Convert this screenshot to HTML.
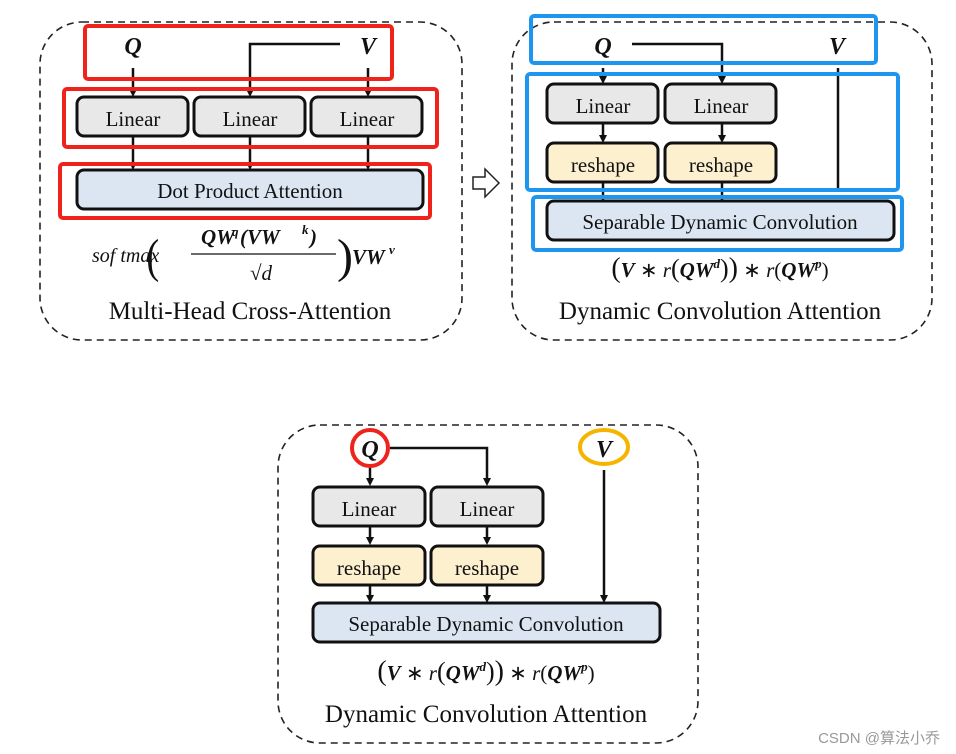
<!DOCTYPE html>
<html><head><meta charset="utf-8"><style>
html,body{margin:0;padding:0;background:#fff;}
svg{display:block;}
text{font-family:"Liberation Serif",serif;fill:#111;}
.bx{stroke:#111;stroke-width:3;}
.lab{font-size:21px;text-anchor:middle;}
.ttl{font-size:25px;text-anchor:middle;}
.bi{font-weight:bold;font-style:italic;}
</style></head><body>
<svg width="956" height="754" viewBox="0 0 956 754" xmlns="http://www.w3.org/2000/svg">
<defs>
<marker id="a" markerWidth="8" markerHeight="8" refX="4" refY="4" orient="auto" markerUnits="userSpaceOnUse"><path d="M0,0 L8,4 L0,8 z" fill="#111"/></marker>
</defs>
<g fill="none" stroke="#222" stroke-width="1.6" stroke-dasharray="7,5">
<rect x="40" y="22" width="422" height="318" rx="42"/>
<rect x="512" y="22" width="420" height="318" rx="42"/>
<rect x="278" y="425" width="420" height="318" rx="42"/>
</g>
<!-- LEFT -->
<g stroke="#111" stroke-width="2.5" fill="none">
<line x1="133" y1="68" x2="133" y2="93" marker-end="url(#a)"/>
<line x1="368" y1="68" x2="368" y2="93" marker-end="url(#a)"/>
<polyline points="340,44 250,44 250,93" marker-end="url(#a)"/>
<line x1="133" y1="136" x2="133" y2="166" marker-end="url(#a)"/>
<line x1="250" y1="136" x2="250" y2="166" marker-end="url(#a)"/>
<line x1="368" y1="136" x2="368" y2="166" marker-end="url(#a)"/>
</g>
<rect class="bx" x="77" y="97" width="111" height="39" rx="7" fill="#e8e8e8"/>
<rect class="bx" x="194" y="97" width="111" height="39" rx="7" fill="#e8e8e8"/>
<rect class="bx" x="311" y="97" width="111" height="39" rx="7" fill="#e8e8e8"/>
<rect class="bx" x="77" y="170" width="346" height="39" rx="7" fill="#dce6f2"/>
<g fill="none" stroke="#f0231c" stroke-width="4">
<rect x="85" y="26" width="307" height="53" rx="3"/>
<rect x="64" y="89" width="373" height="58" rx="3"/>
<rect x="60" y="164" width="370" height="54" rx="3"/>
</g>
<text x="133" y="54" class="bi" font-size="24" text-anchor="middle">Q</text>
<text x="368" y="54" class="bi" font-size="24" text-anchor="middle">V</text>
<text x="133" y="126" class="lab">Linear</text>
<text x="250" y="126" class="lab">Linear</text>
<text x="367" y="126" class="lab">Linear</text>
<text x="250" y="198" class="lab">Dot Product Attention</text>
<text x="92" y="262" font-size="20" font-style="italic">sof tmax</text>
<text x="183" y="272" font-size="48" font-weight="normal" transform="scale(0.8,1)" style="font-size:48px">(</text>
<text x="201" y="244" font-size="21" class="bi">QW</text><text x="232" y="236" font-size="13" class="bi">q</text><text x="240" y="244" font-size="21" class="bi">(VW</text><text x="302" y="234" font-size="13" class="bi">k</text><text x="310" y="244" font-size="21" class="bi">)</text>
<line x1="191" y1="254" x2="336" y2="254" stroke="#111" stroke-width="1.3"/>
<text x="250" y="280" font-size="21" font-style="italic">√d</text>
<text x="337" y="272" style="font-size:48px">)</text>
<text x="352" y="264" font-size="21" class="bi">VW</text><text x="389" y="254" font-size="13" class="bi">v</text>
<text x="250" y="319" class="ttl">Multi-Head Cross-Attention</text>
<!-- hollow arrow -->
<path d="M473,177 L485,177 L485,169 L499,183 L485,197 L485,189 L473,189 Z" fill="#fff" stroke="#222" stroke-width="1.5"/>
<!-- RIGHT -->
<g stroke="#111" stroke-width="2.5" fill="none">
<line x1="603" y1="68" x2="603" y2="80" marker-end="url(#a)"/>
<polyline points="632,44 722,44 722,80" marker-end="url(#a)"/>
<line x1="603" y1="123" x2="603" y2="139" marker-end="url(#a)"/>
<line x1="722" y1="123" x2="722" y2="139" marker-end="url(#a)"/>
<line x1="603" y1="182" x2="603" y2="200"/>
<line x1="722" y1="182" x2="722" y2="200"/>
<line x1="838" y1="68" x2="838" y2="190"/>
<line x1="831" y1="190" x2="845" y2="190"/>
</g>
<rect class="bx" x="547" y="84" width="111" height="39" rx="7" fill="#e8e8e8"/>
<rect class="bx" x="665" y="84" width="111" height="39" rx="7" fill="#e8e8e8"/>
<rect class="bx" x="547" y="143" width="111" height="39" rx="7" fill="#fdf0cf"/>
<rect class="bx" x="665" y="143" width="111" height="39" rx="7" fill="#fdf0cf"/>
<rect class="bx" x="547" y="201" width="347" height="39" rx="7" fill="#dce6f2"/>
<g fill="none" stroke="#1e96f0" stroke-width="4">
<rect x="531" y="16" width="345" height="47" rx="3"/>
<rect x="527" y="74" width="371" height="116" rx="3"/>
<rect x="533" y="197" width="369" height="53" rx="3"/>
</g>
<text x="603" y="54" class="bi" font-size="24" text-anchor="middle">Q</text>
<text x="837" y="54" class="bi" font-size="24" text-anchor="middle">V</text>
<text x="603" y="113" class="lab">Linear</text>
<text x="721" y="113" class="lab">Linear</text>
<text x="603" y="172" class="lab">reshape</text>
<text x="721" y="172" class="lab">reshape</text>
<text x="720" y="229" class="lab">Separable  Dynamic  Convolution</text>
<text x="720" y="277" font-size="21" text-anchor="middle"><tspan font-size="28">(</tspan><tspan class="bi">V</tspan> ∗ <tspan font-style="italic">r</tspan><tspan font-size="26">(</tspan><tspan class="bi">QW</tspan><tspan class="bi" font-size="13" dy="-9">d</tspan><tspan font-size="26" dy="9">)</tspan><tspan font-size="28">)</tspan> ∗ <tspan font-style="italic">r</tspan>(<tspan class="bi">QW</tspan><tspan class="bi" font-size="13" dy="-9">p</tspan><tspan dy="9">)</tspan></text>
<text x="720" y="319" class="ttl">Dynamic Convolution Attention</text>
<!-- BOTTOM -->
<g stroke="#111" stroke-width="2.5" fill="none">
<line x1="370" y1="467" x2="370" y2="482" marker-end="url(#a)"/>
<polyline points="390,448 487,448 487,482" marker-end="url(#a)"/>
<line x1="370" y1="525" x2="370" y2="541" marker-end="url(#a)"/>
<line x1="487" y1="525" x2="487" y2="541" marker-end="url(#a)"/>
<line x1="370" y1="584" x2="370" y2="599" marker-end="url(#a)"/>
<line x1="487" y1="584" x2="487" y2="599" marker-end="url(#a)"/>
<line x1="604" y1="470" x2="604" y2="599" marker-end="url(#a)"/>
</g>
<circle cx="370" cy="448" r="18" fill="#fff" stroke="#f0231c" stroke-width="4"/>
<ellipse cx="604" cy="447" rx="24" ry="17" fill="#fff" stroke="#f5b400" stroke-width="4"/>
<text x="370" y="457" class="bi" font-size="24" text-anchor="middle">Q</text>
<text x="604" y="457" class="bi" font-size="24" text-anchor="middle">V</text>
<rect class="bx" x="313" y="487" width="112" height="39" rx="7" fill="#e8e8e8"/>
<rect class="bx" x="431" y="487" width="112" height="39" rx="7" fill="#e8e8e8"/>
<rect class="bx" x="313" y="546" width="112" height="39" rx="7" fill="#fdf0cf"/>
<rect class="bx" x="431" y="546" width="112" height="39" rx="7" fill="#fdf0cf"/>
<rect class="bx" x="313" y="603" width="347" height="39" rx="7" fill="#dce6f2"/>
<text x="369" y="516" class="lab">Linear</text>
<text x="487" y="516" class="lab">Linear</text>
<text x="369" y="575" class="lab">reshape</text>
<text x="487" y="575" class="lab">reshape</text>
<text x="486" y="631" class="lab">Separable  Dynamic  Convolution</text>
<text x="486" y="680" font-size="21" text-anchor="middle"><tspan font-size="28">(</tspan><tspan class="bi">V</tspan> ∗ <tspan font-style="italic">r</tspan><tspan font-size="26">(</tspan><tspan class="bi">QW</tspan><tspan class="bi" font-size="13" dy="-9">d</tspan><tspan font-size="26" dy="9">)</tspan><tspan font-size="28">)</tspan> ∗ <tspan font-style="italic">r</tspan>(<tspan class="bi">QW</tspan><tspan class="bi" font-size="13" dy="-9">p</tspan><tspan dy="9">)</tspan></text>
<text x="486" y="722" class="ttl">Dynamic Convolution Attention</text>
<text x="940" y="743" font-size="15" text-anchor="end" style="font-family:'Liberation Sans','Noto Sans CJK SC',sans-serif;fill:#999">CSDN @算法小乔</text>
</svg>
</body></html>
